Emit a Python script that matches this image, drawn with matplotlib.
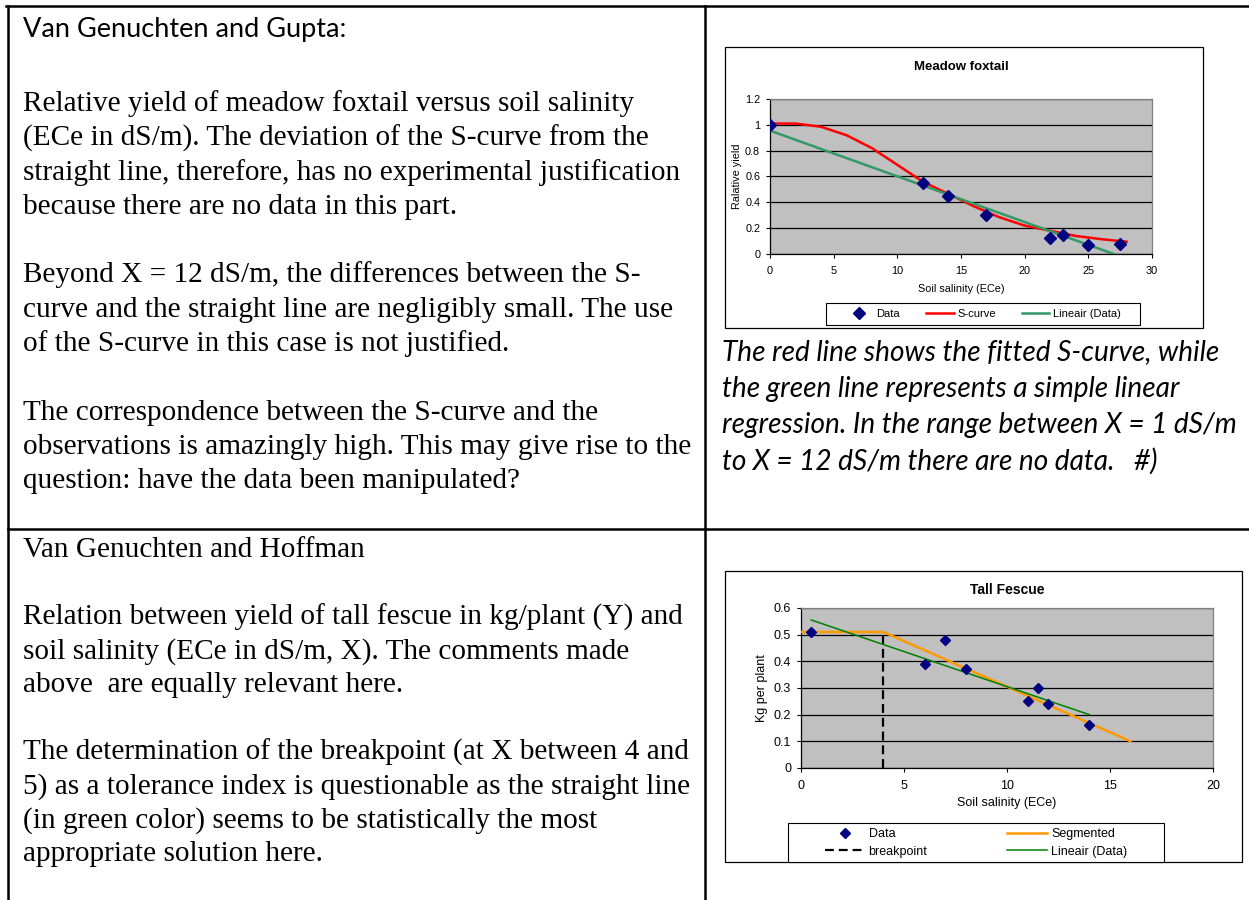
import matplotlib.pyplot as plt
from matplotlib.patches import Rectangle

W, H = 1249, 900

# Meadow foxtail data
mf_x = [0, 12, 14, 17, 22, 23, 25, 27.5]
mf_y = [1.0, 0.55, 0.45, 0.30, 0.12, 0.15, 0.07, 0.08]
scurve_x = [0, 2, 4, 6, 8, 10, 12, 14, 16, 18, 20, 22, 24, 26, 28]
scurve_y = [1.01, 1.01, 0.985, 0.92, 0.82, 0.69, 0.56, 0.465, 0.37, 0.285, 0.22, 0.18, 0.14, 0.115, 0.095]
mf_lin_x = [0, 27]
mf_lin_y = [0.955, 0.0]

# Tall fescue data
tf_x = [0.5, 6, 7, 8, 11, 11.5, 12, 14]
tf_y = [0.51, 0.39, 0.48, 0.37, 0.25, 0.30, 0.24, 0.16]
seg_x = [0, 4, 16]
seg_y = [0.51, 0.51, 0.10]
brk_x = [4, 4]
brk_y = [0, 0.5]
tf_lin_x = [0.5, 14]
tf_lin_y = [0.555, 0.20]

# Texts
left_top = [
    "Relative yield of meadow foxtail versus soil salinity",
    "(ECe in dS/m). The deviation of the S-curve from the",
    "straight line, therefore, has no experimental justification",
    "because there are no data in this part.",
    "",
    "Beyond X = 12 dS/m, the differences between the S-",
    "curve and the straight line are negligibly small. The use",
    "of the S-curve in this case is not justified.",
    "",
    "The correspondence between the S-curve and the",
    "observations is amazingly high. This may give rise to the",
    "question: have the data been manipulated?",
]
left_bottom = [
    "Relation between yield of tall fescue in kg/plant (Y) and",
    "soil salinity (ECe in dS/m, X). The comments made",
    "above  are equally relevant here.",
    "",
    "The determination of the breakpoint (at X between 4 and",
    "5) as a tolerance index is questionable as the straight line",
    "(in green color) seems to be statistically the most",
    "appropriate solution here.",
]
caption = [
    "The red line shows the fitted S-curve, while",
    "the green line represents a simple linear",
    "regression. In the range between X = 1 dS/m",
    "to X = 12 dS/m there are no data.   #)",
]


def box(l, t, r, b):
    return [l / W, 1 - b / H, (r - l) / W, (b - t) / H]


fig = plt.figure(figsize=(W / 100, H / 100), dpi=100)
fig.patch.set_facecolor('white')

bg = fig.add_axes([0, 0, 1, 1])
bg.set_xlim(0, W)
bg.set_ylim(H, 0)
bg.axis('off')

# table lines
lw_tab = 1.8
bg.plot([6, W], [6, 6], color='black', lw=lw_tab)
bg.plot([8, 8], [6, H], color='black', lw=lw_tab)
bg.plot([705, 705], [6, H], color='black', lw=lw_tab)
bg.plot([8, W], [529, 529], color='black', lw=lw_tab)

# left column texts
serif = 'Liberation Serif'
bg.text(23, 37, "Van Genuchten and Gupta:", fontsize=19.5, family='Lato', va='baseline')
y = 111
for line in left_top:
    if line:
        bg.text(23, y, line, fontsize=21.1, family=serif, va='baseline')
    y += 34.3
bg.text(23, 557, "Van Genuchten and Hoffman", fontsize=21.1, family=serif, va='baseline')
y = 625
for line in left_bottom:
    if line:
        bg.text(23, y, line, fontsize=21.1, family=serif, va='baseline')
    y += 33.7

# caption
y = 360
for line in caption:
    bg.text(722, y, line, fontsize=20.2, family='Lato', style='italic', va='baseline')
    y += 36.5

# chart frames and legend boxes
bg.add_patch(Rectangle((725, 47), 1203 - 725, 328 - 47, facecolor='white', edgecolor='black', lw=0.9))
bg.add_patch(Rectangle((725, 571), 1242 - 725, 862 - 571, facecolor='white', edgecolor='black', lw=0.9))
bg.add_patch(Rectangle((826, 303), 1140 - 826, 325 - 303, facecolor='white', edgecolor='black', lw=0.8))
bg.add_patch(Rectangle((788, 823), 1164 - 788, 862 - 823, facecolor='white', edgecolor='black', lw=0.8))

plt.rcParams['font.family'] = 'Liberation Sans'


def style_axes(ax, fs):
    ax.set_facecolor('#C0C0C0')
    for s in ['top', 'right']:
        ax.spines[s].set_color('#808080')
    for s in ['left', 'bottom']:
        ax.spines[s].set_color('black')
    for s in ax.spines.values():
        s.set_linewidth(0.9)
    ax.grid(axis='y', color='black', lw=0.9)
    ax.set_axisbelow(True)
    ax.tick_params(direction='out', length=2.6, width=0.8, labelsize=fs)
    ax.tick_params(axis='x', pad=6)
    ax.tick_params(axis='y', pad=4.5)


# Meadow foxtail chart
ax1 = fig.add_axes(box(770, 99, 1152, 254))
ax1.plot(mf_x, mf_y, linestyle='none', marker='D', color='#000080', markersize=6, label='Data', zorder=4)
ax1.plot(scurve_x, scurve_y, color='#FF0000', lw=1.8, label='S-curve', zorder=3)
ax1.plot(mf_lin_x, mf_lin_y, color='#339966', lw=1.8, label='Lineair (Data)', zorder=3)
ax1.set_xlim(0, 30)
ax1.set_ylim(0, 1.2)
ax1.set_xticks([0, 5, 10, 15, 20, 25, 30])
ax1.set_yticks([0, 0.2, 0.4, 0.6, 0.8, 1.0, 1.2])
ax1.set_yticklabels(['0', '0.2', '0.4', '0.6', '0.8', '1', '1.2'])
style_axes(ax1, 7.8)
ax1.set_xlabel('Soil salinity (ECe)', fontsize=7.8, labelpad=5.5)
ax1.set_ylabel('Ralative yield', fontsize=7.8, labelpad=2)
ax1.set_title('Meadow foxtail', fontsize=9.5, fontweight='bold', pad=21)
ax1.legend(loc='center', bbox_to_anchor=(983 / W, 1 - 314 / H), bbox_transform=fig.transFigure,
           ncol=3, fontsize=8, frameon=False, handlelength=2.5, columnspacing=2.3,
           handletextpad=0.35, borderpad=0, borderaxespad=0)

# Tall fescue chart
ax2 = fig.add_axes(box(801, 608, 1213, 768))
ax2.plot(tf_x, tf_y, linestyle='none', marker='D', color='#000080', markersize=5, label='Data', zorder=4)
ax2.plot(brk_x, brk_y, color='black', lw=1.6, linestyle=(0, (4, 2.2)), label='breakpoint', zorder=3)
ax2.plot(seg_x, seg_y, color='#FF9900', lw=1.8, label='Segmented', zorder=3)
ax2.plot(tf_lin_x, tf_lin_y, color='#008000', lw=1.1, label='Lineair (Data)', zorder=3)
ax2.set_xlim(0, 20)
ax2.set_ylim(0, 0.6)
ax2.set_xticks([0, 5, 10, 15, 20])
ax2.set_yticks([0, 0.1, 0.2, 0.3, 0.4, 0.5, 0.6])
ax2.set_yticklabels(['0', '0.1', '0.2', '0.3', '0.4', '0.5', '0.6'])
style_axes(ax2, 9)
ax2.set_xlabel('Soil salinity (ECe)', fontsize=9, labelpad=3.5)
ax2.set_ylabel('Kg per plant', fontsize=9, labelpad=4)
ax2.set_title('Tall Fescue', fontsize=10, fontweight='bold', pad=10)
ax2.legend(loc='center', bbox_to_anchor=(976 / W, 1 - 843 / H), bbox_transform=fig.transFigure,
           ncol=2, fontsize=9, frameon=False, handlelength=3.2, columnspacing=6.4,
           handletextpad=0.3, borderpad=0, labelspacing=0.45, borderaxespad=0)

fig.savefig('out.png', dpi=100)
